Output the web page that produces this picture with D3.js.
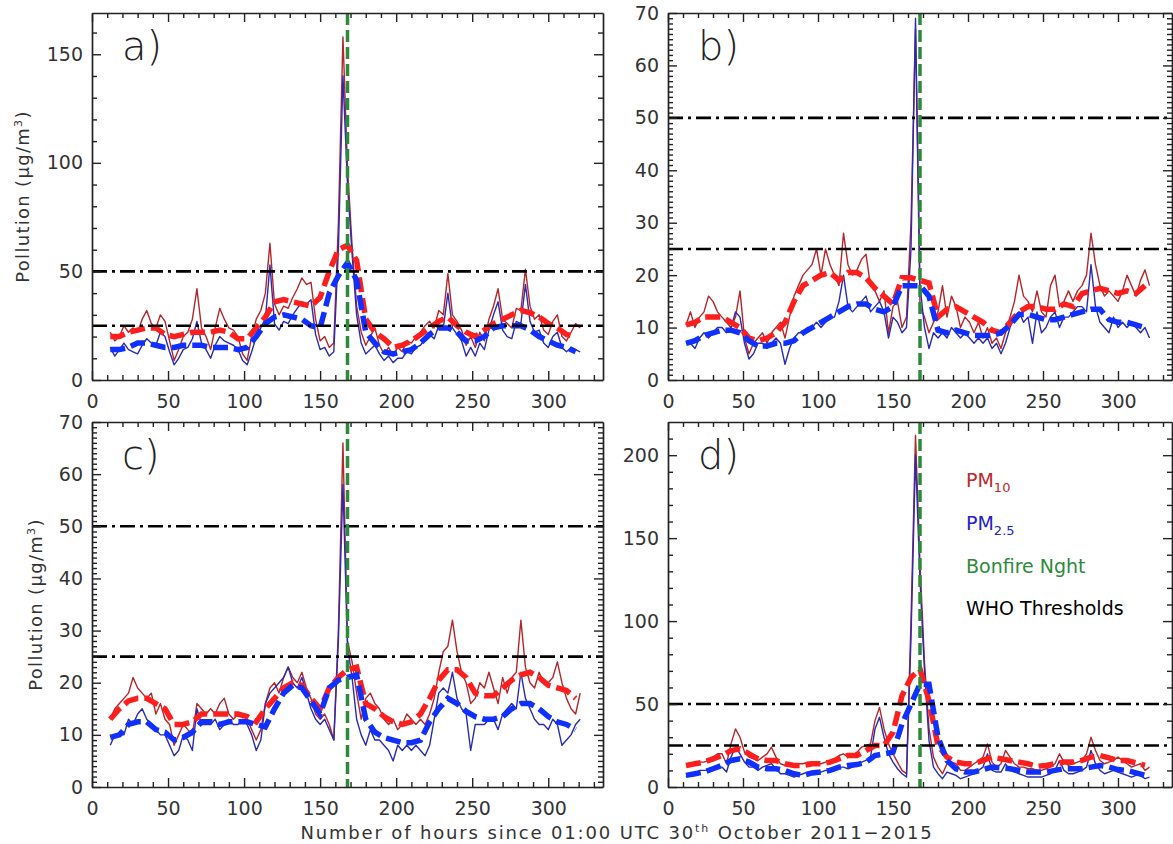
<!DOCTYPE html>
<html><head><meta charset="utf-8">
<script src="https://cdn.jsdelivr.net/npm/d3@7"></script>
<style>body{margin:0;background:#fff}</style>
</head><body>
<svg id="c" width="1173" height="844" xmlns="http://www.w3.org/2000/svg"></svg>
<script>
// ---------- DATA ----------
const hours = [12,15,18,21,24,27,30,33,36,39,
 42,45,48,51,54,57,60,63,66,69,
 72,75,78,81,84,87,90,93,96,99,
 102,105,108,111,114,117,120,123,126,129,
 132,135,138,141,144,147,150,153,156,159,
 162,165,168,171,174,177,180,183,186,189,
 192,195,198,201,204,207,210,213,216,219,
 222,225,228,231,234,237,240,243,246,249,
 252,255,258,261,264,267,270,273,276,279,
 282,285,288,291,294,297,300,303,306,309,
 312,315,318,321];
const meanHours = [12,18,24,30,36,42,48,54,60,66,
 72,78,84,90,96,102,108,114,120,126,
 132,138,144,150,156,162,168,174,180,186,
 192,198,204,210,216,222,228,234,240,246,
 252,258,264,270,276,282,288,294,300,306,
 312,318];
const xTicks = [0,50,100,150,200,250,300];
const whoThresholds = [50,25];
const bonfireHour = 168;
const panelLabels = ["a)","b)","c)","d)"];
const legendLabels = ["PM","PM","Bonfire Nght","WHO Thresholds"];
const legendSubs = ["10","2.5","",""];

// panel a
const aPM10 = [22,18,20,25,22,24,22,28,32,26,
 24,30,27,18,9,14,20,22,28,42,
 24,20,14,24,33,28,24,23,20,12,
 9,20,28,32,40,63,35,30,34,33,
 38,42,47,44,45,28,18,20,15,17,
 72,158,98,62,34,22,16,20,24,16,
 12,15,11,15,13,18,17,20,22,25,
 27,24,32,30,49,30,27,23,16,20,
 15,22,18,28,34,42,28,26,24,33,
 32,51,34,28,30,23,21,27,30,20,
 18,22,26,24];
const aPM25 = [15,11,14,17,14,13,12,16,19,17,
 16,22,20,13,7,10,14,15,19,27,
 17,14,10,16,20,18,17,16,14,9,
 7,13,20,24,28,53,26,23,27,26,
 30,33,36,35,37,21,14,15,11,13,
 60,140,90,58,30,17,12,14,16,12,
 9,11,8,10,10,13,12,15,16,19,
 21,19,25,24,40,24,21,18,11,15,
 11,17,14,23,30,36,23,20,19,27,
 26,44,27,22,23,17,15,20,22,15,
 13,15,14,13];
const aPM10Mean = [20,20,22,23,24,24,21,20,21,22,
 22,22,23,22,19,19,24,29,36,37,
 36,35,34,38,50,60,62,55,28,22,
 19,15,16,18,21,24,27,29,25,22,
 20,23,26,28,30,32,31,29,26,24,
 21,20];
const aPM25Mean = [14,14,15,17,17,16,15,15,16,16,
 16,15,15,15,14,15,20,26,29,30,
 29,28,25,24,40,48,54,46,22,17,
 13,12,13,14,17,21,24,24,22,18,
 18,20,24,25,25,25,23,20,18,16,
 15,13];

// panel b
const bPM10 = [10.5,13,10,12,13,16,15,13,12,11,
 10,12,17,8,5,7,8,9,7,9,
 10,11,8,12,16,18,20,21,22,25,
 20,25,22,20,18,28,22,20,21,23,
 24,18,17,15,17,9,14,15,10,12,
 30,67,14,12,9,11,13,18,12,16,
 14,10,12,11,9,11,8,10,7,8,
 6,9,12,15,20,16,15,13,17,13,
 12,18,20,14,15,17,15,17,18,20,
 28,22,18,16,17,16,15,17,20,18,
 16,19,21,18];
const bPM25 = [7,7,6,8,9,8,9,10,10,9,
 10,13,12,7,4,5,7,7,6,7,
 8,7,3,6,8,9,9,10,10,11,
 10,11,12,12,15,20,14,13,14,15,
 16,13,14,15,13,8,12,11,9,10,
 25,69,18,10,6,9,8,9,8,10,
 9,8,9,8,7,8,7,8,6,7,
 5,7,10,12,13,11,12,7,13,9,
 10,12,13,10,12,12,13,14,14,13,
 22,14,11,10,9,12,10,11,10,11,
 10,9,10,8];
const bPM10Mean = [10.5,11,12,12,12,11,10,8,7.5,8,
 9,11,15,18,19,20,20.5,19,20.5,20.5,
 19.5,17.5,16,14.5,19.5,19.5,19,18.5,12,13.5,
 14,13,12,11,9.5,9,11,13,14,14,
 13.5,13.5,14.5,14,16.5,17,17.5,17,16.5,17,
 16.5,18];
const bPM25Mean = [7,7.5,8.5,9,9.5,9.5,9,7.5,6.5,6.5,
 7,7,7.5,9,10,11,12,13,14,14.5,
 14.5,13.5,13,14,18,18,18,16,9.5,9,
 9.5,9,8.5,8.5,8.5,9,10.5,12.5,12.5,12,
 11.5,11.5,12,12.5,13,13.5,13.5,11.5,11,11,
 10.5,10];

// panel c
const cPM10 = [13,15,16,17,18,21,19,18,17,18,
 14,16,13,12,8,10,12,11,10,16,
 15,14,15,14,16,17,14,13,14,14,
 13,11,9,11,16,19,20,18,21,23,
 21,20,22,19,17,14,13,14,12,9,
 30,66,28,24,18,13,17,18,16,15,
 13,12,13,11,12,14,13,12,13,12,
 14,17,22,26,27,32,26,22,20,16,
 17,20,19,22,19,16,21,18,21,22,
 32,23,20,19,22,20,20,21,24,20,
 17,15,14,18];
const cPM25 = [8,10,10,10,13,12,14,15,13,12,
 11,10,10,8,6,7,10,9,7,15,
 12,12,12,13,11,12,13,12,12,13,
 12,10,7,9,16,18,19,20,21,23,
 20,19,21,18,15,13,12,13,11,9,
 28,58,27,21,13,10,8,11,9,9,
 8,7,5,8,7,8,7,8,7,6,
 8,13,18,19,18,22,17,15,14,7,
 12,12,12,13,13,11,14,15,16,15,
 22,17,15,13,12,12,11,13,12,8,
 9,10,12,13];
const cPM10Mean = [13,15,16.5,17,17,16,15,12,12,12.5,
 14,14,14,14,14,13.5,12.5,15,17,19,
 20,19.5,17,15,19,21,22.5,23,16,15,
 13.5,12.5,12,12.5,14,17,20.5,22.5,22.5,21,
 18,17.5,17.5,19,20.5,21.5,22,21,19.5,19,
 18.5,17];
const cPM25Mean = [9.5,10,12,12.5,12.5,11,10.5,9,9.5,10.5,
 12.5,12.5,12,12.5,12.5,12.5,12,11.5,15,18,
 19.5,19,16.5,14,19,20.5,21,21.5,13,10.5,
 9.5,9,8.5,8.5,9,12.5,15,17,16,14.5,
 13.5,13,13,13.5,15,16,16,15,13.5,12.5,
 12,11];

// panel d
const dPM10 = [13,14,14,15,15,16,18,20,20,14,
 26,35,30,21,18,17,16,18,20,24,
 18,14,13,13,12,14,14,15,15,14,
 14,15,16,17,19,20,18,19,21,24,
 25,26,40,48,35,26,20,15,10,8,
 100,212,135,75,35,18,12,8,14,15,
 14,10,10,12,14,16,18,26,15,12,
 14,22,18,14,12,12,11,11,10,10,
 11,12,14,20,15,13,14,15,16,20,
 30,22,16,14,15,16,18,16,14,12,
 13,14,10,12];
const dPM25 = [6,8,8,10,10,10,10,12,12,9,
 18,24,20,15,12,12,10,12,13,14,
 11,8,8,7,6,7,8,9,9,9,
 9,10,10,11,12,12,11,12,13,15,
 16,18,35,42,30,20,15,11,8,6,
 90,200,125,70,28,12,8,5,9,8,
 7,5,6,7,8,10,12,20,10,9,
 9,14,10,9,8,7,6,6,6,6,
 7,8,10,16,10,8,8,9,10,12,
 22,14,10,8,9,10,9,8,7,6,
 7,7,5,6];
const dPM10Mean = [13,14,15,17,19,22,23,20,17,16,
 16,14,13,13,14,14,15,17,19,19,
 22,25,25,33,55,66,71,52,25,18,
 15,14,14,16,18,17,16,15,14,12.5,
 13,14,15,15,16,18,19,17.5,16,16,
 14.5,13];
const dPM25Mean = [7,8,9,11,13,16,17,15,12,11,
 11,10,8,7,8.5,9,10,12,13,13.5,
 15,19,20,21,38,50,62,62,30,16,
 11,9,9,10.5,12,11.5,11,10,9,9,
 9,10,11,11,11,12,13,12,10.5,10,
 8.5,7];

// ---------- DRAW ----------
const svg = d3.select('#c');
svg.append('rect').attr('width',1173).attr('height',844).attr('fill','#fff');
const FONT = "'DejaVu Sans', 'Open Sans', sans-serif";
const C_PM10 = '#b5262c', C_PM25 = '#2a2ab2', C_M10 = '#ff1e1e', C_M25 = '#1030ff', C_GREEN = '#2e8a3a';

const panels = [
 {x0:92,  x1:603,  y0:13,  y1:380, ymax:169, major:50, minor:10, s:[aPM10,aPM25,aPM10Mean,aPM25Mean], yt:29},
 {x0:668, x1:1172, y0:13,  y1:380, ymax:70,  major:10, minor:1,  s:[bPM10,bPM25,bPM10Mean,bPM25Mean]},
 {x0:92,  x1:603,  y0:422, y1:787, ymax:70,  major:10, minor:1,  s:[cPM10,cPM25,cPM10Mean,cPM25Mean], yt:42},
 {x0:668, x1:1172, y0:422, y1:787, ymax:220, major:50, minor:10, s:[dPM10,dPM25,dPM10Mean,dPM25Mean]}
];

panels.forEach((p,pi)=>{
  const x = d3.scaleLinear().domain([0,336]).range([p.x0,p.x1]);
  const y = d3.scaleLinear().domain([0,p.ymax]).range([p.y1,p.y0]);
  const g = svg.append('g');
  const clipId = 'clip'+pi;
  g.append('clipPath').attr('id',clipId).append('rect')
    .attr('x',p.x0).attr('y',p.y0).attr('width',p.x1-p.x0).attr('height',p.y1-p.y0);
  const plot = g.append('g').attr('clip-path',`url(#${clipId})`);

  const thin = d3.line().x((d,i)=>x(hours[i])).y(d=>y(d));
  const thick = d3.line().x((d,i)=>x(meanHours[i])).y(d=>y(d));

  plot.append('path').datum(p.s[0]).attr('d',thin).attr('fill','none')
    .attr('stroke',C_PM10).attr('stroke-width',1.4).attr('stroke-linejoin','round');
  plot.append('path').datum(p.s[1]).attr('d',thin).attr('fill','none')
    .attr('stroke',C_PM25).attr('stroke-width',1.4).attr('stroke-linejoin','round');
  plot.append('path').datum(p.s[2]).attr('d',thick).attr('fill','none')
    .attr('stroke',C_M10).attr('stroke-width',5.5).attr('stroke-dasharray','15,6');
  plot.append('path').datum(p.s[3]).attr('d',thick).attr('fill','none')
    .attr('stroke',C_M25).attr('stroke-width',5.5).attr('stroke-dasharray','15,6');

  plot.selectAll('line.who').data(whoThresholds).join('line').attr('class','who')
    .attr('x1',p.x0).attr('x2',p.x1).attr('y1',d=>y(d)).attr('y2',d=>y(d))
    .attr('stroke','#000').attr('stroke-width',2.6).attr('stroke-dasharray','15,5,3,5');
  plot.append('line').attr('x1',x(bonfireHour)).attr('x2',x(bonfireHour))
    .attr('y1',p.y0).attr('y2',p.y1)
    .attr('stroke',C_GREEN).attr('stroke-width',3.5).attr('stroke-dasharray','12,5');

  // axes
  const yMajor = d3.range(0, p.ymax+0.001, p.major);
  const yMinor = d3.range(0, p.ymax, p.minor).filter(v=>Math.abs(v % p.major)>1e-9);
  const xMinor = d3.range(0, 336, 10).filter(v=>v%50!==0);

  const ax = [];
  ax.push(g.append('g').attr('transform',`translate(0,${p.y1})`)
    .call(d3.axisBottom(x).tickValues(xTicks).tickSizeInner(-9).tickSizeOuter(0).tickPadding(15).tickFormat(d3.format('d'))));
  ax.push(g.append('g').attr('transform',`translate(0,${p.y0})`)
    .call(d3.axisTop(x).tickValues(xTicks).tickSizeInner(-9).tickSizeOuter(0).tickFormat('')));
  ax.push(g.append('g').attr('transform',`translate(${p.x0},0)`)
    .call(d3.axisLeft(y).tickValues(yMajor).tickSizeInner(-9).tickSizeOuter(0).tickPadding(9).tickFormat(d3.format('d'))));
  ax.push(g.append('g').attr('transform',`translate(${p.x1},0)`)
    .call(d3.axisRight(y).tickValues(yMajor).tickSizeInner(-9).tickSizeOuter(0).tickFormat('')));
  // minor ticks
  const mn = [];
  mn.push(g.append('g').attr('transform',`translate(0,${p.y1})`).call(d3.axisBottom(x).tickValues(xMinor).tickSize(-5).tickFormat('')));
  mn.push(g.append('g').attr('transform',`translate(0,${p.y0})`).call(d3.axisTop(x).tickValues(xMinor).tickSize(-5).tickFormat('')));
  mn.push(g.append('g').attr('transform',`translate(${p.x0},0)`).call(d3.axisLeft(y).tickValues(yMinor).tickSize(-5).tickFormat('')));
  mn.push(g.append('g').attr('transform',`translate(${p.x1},0)`).call(d3.axisRight(y).tickValues(yMinor).tickSize(-5).tickFormat('')));
  mn.forEach(a=>a.select('.domain').remove());
  ax.concat(mn).forEach(a=>{
    a.attr('font-family',FONT).attr('font-size',19);
    a.select('.domain').attr('stroke','#222').attr('stroke-width',1.7);
    a.selectAll('.tick line').attr('stroke','#222').attr('stroke-width',1.4);
    a.selectAll('.tick text').attr('fill','#333');
  });

  // panel label
  g.append('text').attr('x',p.x0+30).attr('y',p.y0+47)
    .attr('font-family',FONT).attr('font-size',40).attr('font-weight',300).attr('fill','#222')
    .text(panelLabels[pi]);

  // y title
  if (p.yt) {
    const t = g.append('text').attr('transform',`translate(${p.yt},${(p.y0+p.y1)/2}) rotate(-90)`)
      .attr('text-anchor','middle').attr('font-family',FONT).attr('font-size',18).attr('fill','#333')
      .attr('letter-spacing',1.3);
    t.append('tspan').text('Pollution (μg/m');
    t.append('tspan').attr('font-size',11).attr('dy',-7).text('3');
    t.append('tspan').attr('dy',7).text(')');
  }
});

// x title
const xt = svg.append('text').attr('x',617).attr('y',839).attr('text-anchor','middle')
  .attr('font-family',FONT).attr('font-size',18).attr('fill','#333').attr('letter-spacing',1.85);
xt.append('tspan').text('Number of hours since 01:00 UTC 30');
xt.append('tspan').attr('font-size',11).attr('dy',-7).text('th');
xt.append('tspan').attr('dy',7).text(' October 2011−2015');

// legend in panel d
const legColors = ['#c0282e','#2323c8',C_GREEN,'#000'];
const legY = [487,530,573,615];
legendLabels.forEach((lab,i)=>{
  const t = svg.append('text').attr('x',966).attr('y',legY[i])
    .attr('font-family',FONT).attr('font-size',19).attr('fill',legColors[i]);
  t.append('tspan').text(lab);
  if (legendSubs[i]) t.append('tspan').attr('font-size',13).attr('dy',5).text(legendSubs[i]);
});
</script>
</body></html>
